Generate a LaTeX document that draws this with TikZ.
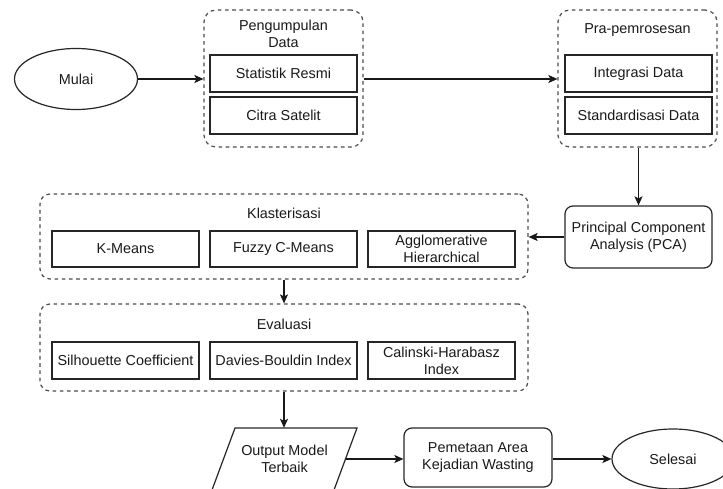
\documentclass[tikz,border=0pt]{standalone}
\usepackage{fontspec}
\setmainfont{Liberation Sans}
\usetikzlibrary{shapes.geometric,arrows.meta}
\begin{document}
\begin{tikzpicture}[x=1pt,y=-1pt,
  font=\fontsize{14.4}{17}\selectfont,
  every node/.style={text=black!90, align=center, inner sep=0pt},
  box/.style={draw=black!85, line width=1.2pt, minimum width=147pt, minimum height=37pt},
  rbox/.style={draw=black!85, line width=1.2pt, rounded corners=8pt},
  oval/.style={ellipse, draw=black!85, line width=1.2pt},
  group/.style={draw=black!70, line width=1.2pt, dash pattern=on 3.6pt off 3.6pt, rounded corners=12pt},
  arr/.style={draw=black!90, line width=1.2pt, -{Stealth[length=9pt,width=8pt,inset=2pt]}},
  ttl/.style={}
]
\useasboundingbox (0,0) rectangle (723,489);
\clip (0,0) rectangle (723,489);

% start
\node[oval, minimum width=123pt, minimum height=61pt] (mulai) at (76,79) {Mulai};

% Pengumpulan Data group
\node[group, minimum width=159pt, minimum height=137pt] (pg) at (283.5,78.5) {};
\node[ttl] (pgt) at (283.5,33.5) {Pengumpulan\\Data};
\node[box] (sr) at (283.5,73.5) {Statistik Resmi};
\node[box] (cs) at (283.5,115.5) {Citra Satelit};

% Pra-pemrosesan group
\node[group, minimum width=159pt, minimum height=137pt] (pra) at (637.5,78.5) {};
\node[ttl] (prat) at (637.5,30) {Pra-pemrosesan};
\node[box] (ig) at (638.5,73.5) {Integrasi Data};
\node[box] (sd) at (638.5,115.5) {Standardisasi Data};

% PCA
\node[rbox, minimum width=147pt, minimum height=62pt] (pca) at (638.5,237) {Principal Component\\Analysis (PCA)};

% Klasterisasi group
\node[group, rounded corners=10pt, minimum width=488pt, minimum height=85pt] (kl) at (284,236.5) {};
\node[ttl] (klt) at (284,213) {Klasterisasi};
\node[box, minimum height=36pt] (km) at (125.5,249) {K-Means};
\node[box, minimum height=36pt] (fcm) at (283.5,249) {Fuzzy C-Means};
\node[box, minimum height=36pt] (ah) at (441.5,249) {Agglomerative\\Hierarchical};

% Evaluasi group
\node[group, rounded corners=10pt, minimum width=488pt, minimum height=87pt] (ev) at (284,347.5) {};
\node[ttl] (evt) at (284,324) {Evaluasi};
\node[box] (sil) at (125.5,360.5) {Silhouette Coefficient};
\node[box] (db) at (283.5,360.5) {Davies-Bouldin Index};
\node[box] (ch) at (441.5,360.5) {Calinski-Harabasz\\Index};

% Output (parallelogram)
\node[minimum width=122pt, minimum height=62pt] (out) at (284.5,459) {Output Model\\Terbaik};
\draw[draw=black!85, line width=1.2pt] (235,428) -- (357,428) -- (334,490) -- (212,490) -- cycle;

% Pemetaan
\node[rbox, minimum width=148pt, minimum height=59pt] (pm) at (478,457.5) {Pemetaan Area\\Kejadian Wasting};

% end
\node[oval, minimum width=122pt, minimum height=60pt] (sel) at (673,459) {Selesai};

% connectors
\draw[arr] (mulai.east) -- (mulai.east -| pg.west);
\draw[arr] (pg.east |- mulai.east) -- (pra.west |- mulai.east);
\draw[arr] (pca.north |- pra.south) -- (pca.north);
\draw[arr] (pca.west) -- (pca.west -| kl.east);
\draw[arr] (kl.south) -- (ev.north);
\draw[arr] (ev.south) -- (ev.south |- out.north);
\draw[arr] (out.east) -- (out.east -| pm.west);
\draw[arr] (pm.east |- out.east) -- (sel.west);
\end{tikzpicture}
\end{document}
